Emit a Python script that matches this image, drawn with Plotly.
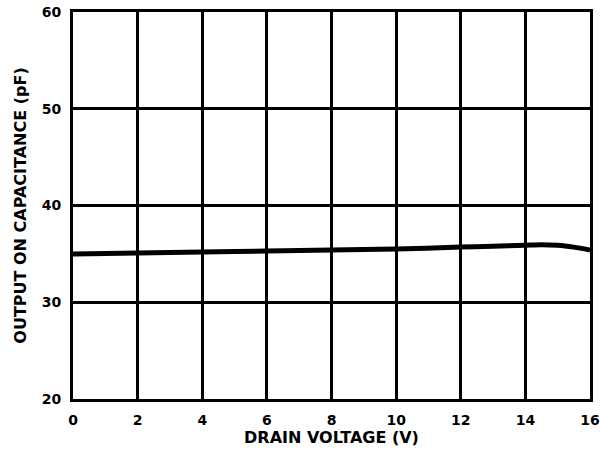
import plotly.graph_objects as go

drain_voltage = [0, 2, 4, 6, 8, 10, 12, 13, 14, 14.5, 15, 15.5, 16]
capacitance = [35.0, 35.1, 35.2, 35.3, 35.4, 35.5, 35.7, 35.8, 35.9, 35.95, 35.9, 35.7, 35.4]
x_ticks = [0, 2, 4, 6, 8, 10, 12, 14, 16]
y_ticks = [20, 30, 40, 50, 60]

fig = go.Figure()
fig.add_trace(go.Scatter(
    x=drain_voltage, y=capacitance, mode="lines",
    line=dict(color="black", width=5, shape="spline", smoothing=0.8),
    hoverinfo="skip", showlegend=False,
))

tick_font = dict(family="DejaVu Sans, sans-serif", size=14, color="black", weight="bold")
title_font = dict(family="DejaVu Sans, sans-serif", size=16, color="black", weight="bold")

fig.update_layout(
    width=600, height=452,
    margin=dict(l=73, r=10, t=12, b=53),
    paper_bgcolor="white", plot_bgcolor="white",
    font=tick_font,
)
fig.update_xaxes(
    range=[0, 16], tickvals=x_ticks, ticktext=[str(v) for v in x_ticks],
    showgrid=True, gridcolor="black", gridwidth=2.5,
    showline=True, linecolor="black", linewidth=3, mirror=True,
    ticks="", tickfont=tick_font, zeroline=False, automargin=False,
    ticklabelstandoff=6,
    title=dict(text="DRAIN VOLTAGE (V)", font=title_font, standoff=2),
)
fig.update_yaxes(
    range=[20, 60], tickvals=y_ticks, ticktext=[str(v) for v in y_ticks],
    showgrid=True, gridcolor="black", gridwidth=2.5,
    showline=True, linecolor="black", linewidth=3, mirror=True,
    ticks="", tickfont=tick_font, zeroline=False, automargin=False,
    ticklabelstandoff=6,
    title=dict(text="OUTPUT ON CAPACITANCE (pF)", font=title_font, standoff=12),
)

fig.write_html("out.html", config={"displayModeBar": False},
               post_script="document.body.style.margin='0';")
